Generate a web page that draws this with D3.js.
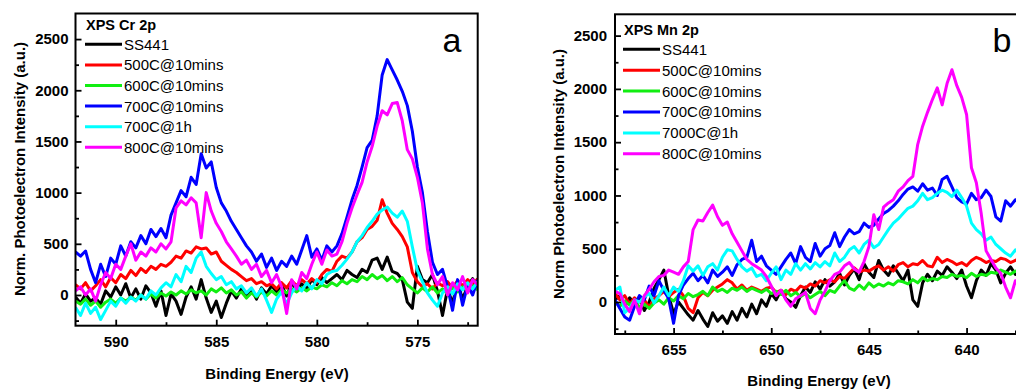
<!DOCTYPE html>
<html lang="en">
  <head>
    <meta charset="utf-8" />
    <title>XPS Cr 2p / Mn 2p</title>
    <style>
      body {
        margin: 0;
        background: #fff;
      }
      svg {
        display: block;
        font-family: 'Liberation Sans', Arial, sans-serif;
      }
    </style>
  </head>

  <body>
    <div id="chart"></div>

    <script src="https://cdn.jsdelivr.net/npm/d3@7/dist/d3.min.js"></script>
    <script type="text/javascript">
      // Legend names, same order as they are drawn
      var namesCr = ['SS441', '500C@10mins', '600C@10mins', '700C@10mins', '700C@1h', '800C@10mins']
      var namesMn = ['SS441', '500C@10mins', '600C@10mins', '700C@10mins', '7000C@1h', '800C@10mins']
      var colors = ['#000000', '#ff0000', '#11ee11', '#0000ff', '#00ffff', '#ff00ff']

      // Binding energy grid (eV), 0.25 eV steps
      var energyCr = d3.range(592, 571.99, -0.25)
      var energyMn = d3.range(658, 635.99, -0.25)

      // Cr 2p intensities (a.u.)
      var crSS441 = [-20,-80,10,-60,-30,-90,40,-20,80,0, 110,-30,60,-40,90,20,-110,40,-200,10,
        -60,-190,-20,80,-40,150,-30,-170,-60,-220, -80,40,-30,60,-20,50,-40,70,10,90,
        30,100,-10,120,40,110,60,150,100,170, 120,160,200,150,240,200,170,250,220,340,
        360,250,370,230,210,150,-70,-130,280,150, 120,200,40,-200,60,-80,120,-40,90,160, 60]
      var cr500 = [100,60,120,40,90,150,80,170,120,200, 160,240,190,260,220,280,250,300,280,320,
        380,360,430,410,470,450,460,400,420,330, 290,250,220,180,140,160,110,130,90,110,
        60,120,70,140,90,150,110,160,120,200, 250,230,330,380,360,420,520,560,640,670,
        730,930,800,700,640,570,470,220,130,80, 110,60,120,90,130,70,140,90,150,100, 160]
      var cr600 = [-60,-90,-40,-100,-60,-120,-70,-40,-80,-30, -60,-20,-50,0,-40,10,-30,20,-10,30,
        0,40,10,50,20,40,0,60,30,70, 20,50,0,30,-30,20,-20,30,-10,40,
        0,50,20,60,30,70,40,80,60,100, 80,120,90,140,110,150,130,180,150,200,
        160,190,140,180,130,170,100,60,20,70, 30,80,20,60,10,70,30,80,40,90, 50]
      var cr700 = [420,380,430,250,120,300,180,360,300,480, 380,520,460,580,500,640,570,650,560,780,
        900,1020,960,1150,1080,1380,1240,1300,1050,900, 820,720,640,560,480,420,330,400,270,360,
        240,330,280,380,300,440,580,370,450,340, 480,420,480,600,760,930,1070,1250,1440,1510,
        1750,2150,2300,2200,2100,1990,1850,1600,1250,1000, 620,320,200,250,80,-150,150,-100,100,0, 150]
      var cr700h = [-120,-200,-80,-180,-120,-240,-150,-60,-110,-30, -80,-20,-60,0,-40,40,0,70,120,80,
        200,130,280,220,360,420,280,210,150,180, 100,130,60,90,20,70,-10,60,-50,-170,
        -40,30,-90,20,90,40,120,60,150,110, 200,230,240,290,350,420,520,580,660,720,
        790,830,860,800,760,820,720,470,240,130, 20,-50,-110,20,80,10,110,50,120,60, 130]
      var cr800 = [40,80,0,60,-60,100,220,160,300,250, 380,500,340,420,380,460,420,500,450,520,
        850,920,880,950,900,560,1000,820,700,620, 520,450,380,300,340,250,300,180,240,120,
        200,80,-180,150,60,220,160,300,420,300, 440,380,400,520,700,850,980,1100,1300,1450,
        1650,1800,1760,1870,1880,1700,1420,1330,1150,900, 450,200,100,180,0,120,50,180,20,150, 100]

      // Mn 2p intensities (a.u.)
      var mnSS441 = [20,60,-40,40,-20,50,-80,0,130,210, 300,60,-110,0,-60,-120,-170,-80,-160,-230,
        -100,-180,-130,-200,-90,-170,-60,-140,-20,-110, 20,-40,80,20,110,30,0,-50,60,140,
        90,190,120,210,150,190,270,160,250,310, 210,360,280,230,390,300,250,340,270,200,
        300,20,-40,180,260,200,290,250,330,280, 220,300,150,40,200,300,250,360,300,180,
        270,330,260,300,220,280,340,260,300]
      var mn500 = [80,20,60,-20,40,0,20,-50,30,60, 100,50,90,120,60,-60,-100,40,90,60,
        110,140,170,210,180,120,160,110,140,120, 100,130,140,90,110,70,120,100,150,130,
        170,150,200,180,210,190,240,220,270,320, 280,300,290,320,340,300,330,290,350,370,
        330,360,350,390,340,330,420,370,400,380, 350,370,340,390,420,400,370,390,380,410,
        400,370,390,420,380,400,430,390,410]
      var mn600 = [0,-40,10,-30,20,-50,-20,-60,-10,20, -20,40,10,60,30,80,50,70,100,60,
        140,100,120,90,130,110,140,100,130,110, 90,120,80,100,70,110,60,90,50,80,
        40,70,100,60,110,90,150,200,130,110, 160,120,180,140,170,150,180,160,200,190,
        170,210,180,230,200,220,210,240,230,260, 240,250,230,270,240,260,250,280,270,300,
        280,260,290,270,280,300,270,290,280]
      var mn700 = [20,-60,-140,-170,-40,60,20,150,60,200, 110,30,-200,60,160,220,270,200,250,180,
        300,240,280,330,250,350,400,420,580,380, 430,340,300,260,330,400,460,360,520,420,
        380,550,430,500,530,650,520,610,680,640, 660,740,700,720,780,830,860,900,950,1010,
        1060,1080,1040,1110,1050,1070,1000,1150,1180,1080, 980,940,920,1020,960,980,1050,990,800,760,
        950,900,960,920,980,900,950,1000,930]
      var mn7000h = [110,140,-100,-60,20,0,50,80,-10,60, 140,60,140,100,200,340,290,340,250,330,
        360,300,420,490,480,400,330,290,320,240, 260,200,270,330,210,300,260,360,300,360,
        310,370,330,380,340,460,380,420,490,520, 460,540,580,510,540,610,680,740,780,830,
        880,900,950,1020,960,980,1020,1050,1030,990, 1050,980,900,740,680,640,580,610,540,500,
        460,430,490,440,470,420,460,430,450]
      var mn800 = [100,80,-20,-90,20,-110,60,120,190,240, 250,300,280,260,330,380,680,770,760,840,
        910,800,720,750,640,560,480,400,360,330, 300,240,150,60,110,20,-40,30,60,90,
        -60,-110,20,100,200,260,280,340,370,310, 280,380,520,820,680,890,930,960,1040,1080,
        1140,1180,1480,1650,1780,1900,2010,1850,2050,2180, 2030,1920,1760,1260,1120,830,480,400,320,270,
        140,40,200,120,150,80,180,100,160]

      // Tick values
      var crMajorX = [590, 585, 580, 575]
      var crMinorX = [587.5, 582.5, 577.5, 572.5]
      var mnMajorX = [655, 650, 645, 640]
      var mnMinorX = [657.5, 652.5, 647.5, 642.5, 637.5]
      var majorY = [0, 500, 1000, 1500, 2000, 2500]
      var minorY = [-250, 250, 750, 1250, 1750, 2250]

      var svg = d3.select('#chart').append('svg').attr('width', 1016).attr('height', 391)
      svg.append('rect').attr('width', 1016).attr('height', 391).attr('fill', '#fff')

      function drawPanel(p) {
        var x = d3.scaleLinear().domain(p.xDomain).range([p.left, p.right])
        var y = d3.scaleLinear().domain(p.yDomain).range([p.bottom, p.top])

        svg
          .append('clipPath')
          .attr('id', p.id)
          .append('rect')
          .attr('x', p.left)
          .attr('y', p.top)
          .attr('width', p.right - p.left)
          .attr('height', p.bottom - p.top)

        // Spectra
        var line = d3
          .line()
          .x(function (d) {
            return x(d[0])
          })
          .y(function (d) {
            return y(d[1])
          })
        var plot = svg.append('g').attr('clip-path', 'url(#' + p.id + ')')
        p.series.forEach(function (vals, k) {
          plot
            .append('path')
            .datum(d3.zip(p.energy, vals))
            .attr('d', line)
            .attr('fill', 'none')
            .attr('stroke', colors[k])
            .attr('stroke-width', 3)
            .attr('stroke-linejoin', 'round')
        })

        // Axes (ticks point inwards)
        var fmt = d3.format('d')
        var xAxis = svg
          .append('g')
          .attr('transform', 'translate(0,' + p.bottom + ')')
          .call(d3.axisBottom(x).tickValues(p.xMajor).tickFormat(fmt).tickSizeInner(-6).tickSizeOuter(0).tickPadding(p.xPad))
        svg
          .append('g')
          .attr('transform', 'translate(0,' + p.bottom + ')')
          .call(d3.axisBottom(x).tickValues(p.xMinor).tickFormat('').tickSizeInner(-3.5).tickSizeOuter(0))
        var yAxis = svg
          .append('g')
          .attr('transform', 'translate(' + p.left + ',0)')
          .call(d3.axisLeft(y).tickValues(majorY).tickFormat(fmt).tickSizeInner(-6).tickSizeOuter(0).tickPadding(p.yPad))
        svg
          .append('g')
          .attr('transform', 'translate(' + p.left + ',0)')
          .call(d3.axisLeft(y).tickValues(minorY).tickFormat('').tickSizeInner(-3.5).tickSizeOuter(0))

        svg.selectAll('.domain').remove()
        svg.selectAll('.tick line').attr('stroke', '#000').attr('stroke-width', 1.8)
        ;[xAxis, yAxis].forEach(function (a) {
          a.attr('font-family', null).attr('font-size', null)
          a.selectAll('text').attr('fill', '#000').style('font-size', '15px').style('font-weight', 'bold')
        })

        // Frame
        svg
          .append('rect')
          .attr('x', p.left)
          .attr('y', p.top)
          .attr('width', p.right - p.left)
          .attr('height', p.bottom - p.top)
          .attr('fill', 'none')
          .attr('stroke', '#000')
          .attr('stroke-width', 2)

        // Axis titles
        svg
          .append('text')
          .attr('x', p.xTitle[0])
          .attr('y', p.xTitle[1])
          .attr('text-anchor', 'middle')
          .style('font-size', '15px')
          .style('font-weight', 'bold')
          .text('Binding Energy (eV)')
        svg
          .append('text')
          .attr('transform', 'translate(' + p.yTitle[0] + ',' + p.yTitle[1] + ') rotate(-90)')
          .attr('text-anchor', 'middle')
          .style('font-size', '15px')
          .style('font-weight', 'bold')
          .text(p.yLabel)

        // Legend
        svg
          .append('text')
          .attr('x', p.legend[0] + 1)
          .attr('y', p.legend[1])
          .style('font-size', '14.5px')
          .style('font-weight', 'bold')
          .text(p.title)
        p.names.forEach(function (name, k) {
          var ly = p.legend[2] + k * p.legend[3]
          svg
            .append('line')
            .attr('x1', p.legend[0])
            .attr('x2', p.legend[0] + p.legend[4])
            .attr('y1', ly)
            .attr('y2', ly)
            .attr('stroke', colors[k])
            .attr('stroke-width', 3)
          svg
            .append('text')
            .attr('x', p.legend[0] + p.legend[4] + 2)
            .attr('y', ly)
            .attr('dy', '0.36em')
            .style('font-size', '15px')
            .text(name)
        })

        // Panel letter
        svg
          .append('text')
          .attr('x', p.letter[0])
          .attr('y', p.letter[1])
          .attr('text-anchor', 'middle')
          .style('font-size', '34px')
          .text(p.letter[2])
      }

      drawPanel({
        id: 'clipCr',
        left: 75.5,
        right: 477.7,
        top: 13.5,
        bottom: 325.7,
        xDomain: [592, 572],
        yDomain: [-300, 2750],
        energy: energyCr,
        series: [crSS441, cr500, cr600, cr700, cr700h, cr800],
        names: namesCr,
        title: 'XPS Cr 2p',
        xMajor: crMajorX,
        xMinor: crMinorX,
        xPad: 11,
        yPad: 7,
        xTitle: [277, 379],
        yTitle: [25, 169],
        yLabel: 'Norm. Photoelectron Intensity (a.u.)',
        legend: [85, 30, 44.3, 20.6, 37],
        letter: [452, 52, 'a']
      })

      drawPanel({
        id: 'clipMn',
        left: 615,
        right: 1044.7,
        top: 14.3,
        bottom: 334,
        xDomain: [658, 636],
        yDomain: [-300, 2700],
        energy: energyMn,
        series: [mnSS441, mn500, mn600, mn700, mn7000h, mn800],
        names: namesMn,
        title: 'XPS Mn 2p',
        xMajor: mnMajorX,
        xMinor: mnMinorX,
        xPad: 10,
        yPad: 8,
        xTitle: [819, 386],
        yTitle: [564, 174],
        yLabel: 'Norm Photoelectron Intensity (a.u.)',
        legend: [623, 35, 49.3, 20.9, 37],
        letter: [1002, 52, 'b']
      })
    </script>
  </body>
</html>
